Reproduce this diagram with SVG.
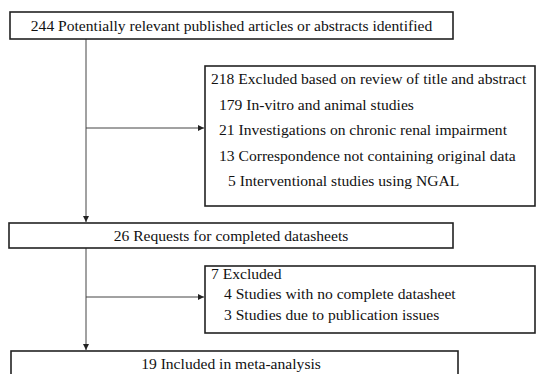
<svg xmlns="http://www.w3.org/2000/svg" width="536" height="374" viewBox="0 0 536 374">
<style>
.box{fill:#fff;stroke:#222;stroke-width:1.6}
.t{font-family:"Liberation Serif","Times New Roman",serif;font-size:15.6px;fill:#111}
.c{text-anchor:middle}
.ln{stroke:#444;stroke-width:1;fill:none}
</style>
<defs>
<marker id="ah" markerWidth="6" markerHeight="6" refX="6" refY="3" orient="auto" markerUnits="userSpaceOnUse">
<path d="M0,0 L6,3 L0,6 Z" fill="#222"/>
</marker>
</defs>
<rect width="536" height="374" fill="#fff"/>
<g id="connectors">
<line class="ln" x1="86" y1="39" x2="86" y2="222" marker-end="url(#ah)"/>
<line class="ln" x1="86" y1="128" x2="204" y2="128" marker-end="url(#ah)"/>
<line class="ln" x1="86" y1="248" x2="86" y2="350" marker-end="url(#ah)"/>
<line class="ln" x1="86" y1="297" x2="204" y2="297" marker-end="url(#ah)"/>
</g>
<g id="n1">
<rect class="box" x="10" y="12" width="443" height="27"/>
<text class="t c" x="231.5" y="31">244 Potentially relevant published articles or abstracts identified</text>
</g>
<g id="n2">
<rect class="box" x="205" y="66" width="330" height="140"/>
<text class="t" x="211" y="84">218 Excluded based on review of title and abstract</text>
<text class="t" x="219" y="109.5">179 In-vitro and animal studies</text>
<text class="t" x="219" y="135">21 Investigations on chronic renal impairment</text>
<text class="t" x="219" y="160.5">13 Correspondence not containing original data</text>
<text class="t" x="228" y="186">5 Interventional studies using NGAL</text>
</g>
<g id="n3">
<rect class="box" x="9" y="223" width="444" height="25"/>
<text class="t c" x="231" y="240.5">26 Requests for completed datasheets</text>
</g>
<g id="n4">
<rect class="box" x="205" y="266" width="330" height="67"/>
<text class="t" x="211" y="279">7 Excluded</text>
<text class="t" x="224" y="299">4 Studies with no complete datasheet</text>
<text class="t" x="224" y="320">3 Studies due to publication issues</text>
</g>
<g id="n5">
<rect class="box" x="11" y="351" width="447" height="30"/>
<text class="t c" x="231" y="368.5">19 Included in meta-analysis</text>
</g>
</svg>
